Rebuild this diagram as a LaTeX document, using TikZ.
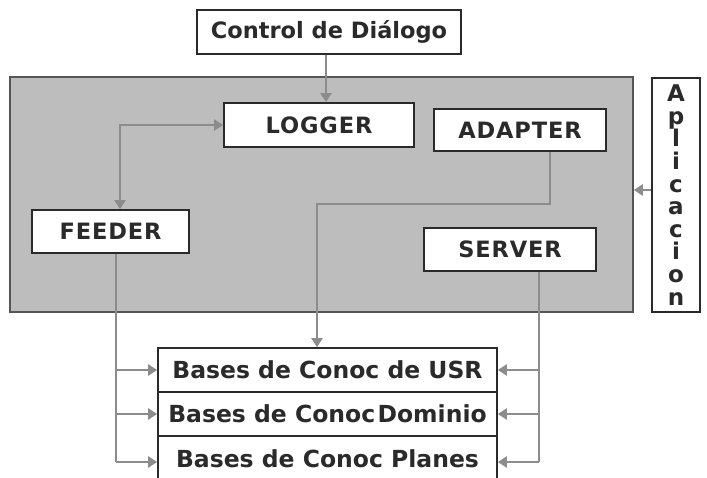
\documentclass[tikz,border=0pt]{standalone}
\usepackage{fontspec}
\setmainfont{DejaVu Sans}
\usetikzlibrary{arrows.meta,calc}
\definecolor{ink}{HTML}{2A2A2A}
\definecolor{wire}{HTML}{8C8C8C}
\definecolor{panelgray}{HTML}{BDBDBD}
\tikzset{
  box/.style={draw=ink, line width=1.7pt, fill=white, text=ink, inner sep=0pt,
              font=\bfseries\fontsize{22.5}{24}\selectfont},
  capsbox/.style={box, font=\addfontfeatures{LetterSpace=4}\bfseries\fontsize{22.5}{24}\selectfont},
  basebox/.style={box, minimum width=339pt, font=\bfseries\fontsize{23.5}{25}\selectfont},
  wireline/.style={draw=wire, line width=2.6pt},
  arr/.style={wireline, -{Triangle[length=9pt,width=11pt]}},
  darr/.style={wireline, {Triangle[length=9pt,width=11pt]}-{Triangle[length=9pt,width=11pt]}},
}
\begin{document}
\begin{tikzpicture}[x=1pt,y=-1pt]
  \useasboundingbox (0,0) rectangle (707,478);
  \clip (0,0) rectangle (707,478);

  % application panel
  \node[draw=ink!80, line width=1.5pt, fill=panelgray, minimum width=623pt, minimum height=235pt,
        inner sep=0pt] (panel) at (321.5,194.5) {};

  % boxes
  \node[box, minimum width=264pt, minimum height=44pt] (ctrl) at (329,32) {Control de Diálogo};
  \node[capsbox, minimum width=190pt, minimum height=44pt] (logger) at (319,125) {LOGGER};
  \node[capsbox, minimum width=172pt, minimum height=42pt] (adapter) at (520,130) {ADAPTER};
  \node[capsbox, minimum width=157pt, minimum height=43pt] (feeder) at (110.5,231.5) {FEEDER};
  \node[capsbox, minimum width=172pt, minimum height=43pt] (server) at (510,249.5) {SERVER};
  \node[box, minimum width=48pt, minimum height=234pt, align=center,
        font=\bfseries\fontsize{23}{22.6}\selectfont] (apl) at (676,195)
        {A\\p\\l\\i\\c\\a\\c\\i\\o\\n};

  % knowledge bases
  \node[basebox, minimum height=44pt] (usr) at (327.5,370) {Bases de Conoc de USR};
  \node[basebox, minimum height=44pt] (dom) at (327.5,414) {Bases de Conoc\hspace{-0.25em} Dominio};
  \node[basebox, minimum height=46pt] (pla) at (327.5,459) {Bases de Conoc Planes};

  % dialog control into logger
  \draw[arr] ([xshift=-3pt]ctrl.south) coordinate (c1) -- (c1 |- logger.north);

  % logger <-> feeder
  \draw[darr] (logger.west) -| ([xshift=9.5pt]feeder.north);

  % adapter down to the user base
  \coordinate (abend) at (317,204);
  \draw[arr] ([xshift=30pt]adapter.south) |- (abend) -- (abend |- usr.north);

  % application into panel
  \draw[arr] ([yshift=5pt]apl.west) coordinate (a1) -- (a1 -| panel.east);

  % feeder to the bases
  \coordinate (fbot) at (116,462);
  \draw[wireline] (feeder.south -| fbot) -- (fbot);
  \draw[arr] (fbot |- usr.west) -- (usr.west);
  \draw[arr] (fbot |- dom.west) -- (dom.west);
  \draw[arr] (fbot) -- (fbot -| pla.west);

  % server to the bases
  \coordinate (sbot) at (539,462);
  \draw[wireline] (server.south -| sbot) -- (sbot);
  \draw[arr] (sbot |- usr.east) -- (usr.east);
  \draw[arr] (sbot |- dom.east) -- (dom.east);
  \draw[arr] (sbot) -- (sbot -| pla.east);
\end{tikzpicture}
\end{document}
